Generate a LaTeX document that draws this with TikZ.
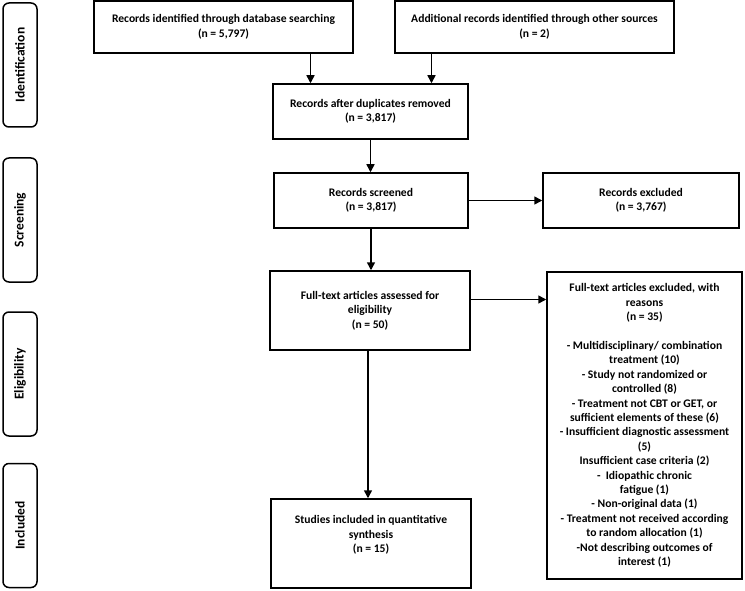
\documentclass[tikz,border=0pt]{standalone}
\usepackage{fontspec}
\setmainfont{Carlito}
\usepackage{tikz}
\usetikzlibrary{shapes, arrows.meta, positioning}
\tikzstyle{record} = [rectangle, draw, line width=1.5pt, align=center, inner sep=2pt, font=\bfseries\fontsize{11.6}{14.4}\selectfont]
\tikzstyle{phase} = [rectangle, rounded corners=6pt, draw, line width=1.5pt, rotate=90, minimum width=124pt, minimum height=34pt, font=\bfseries\fontsize{13.5}{15}\selectfont]
\tikzstyle{flow} = [-{Triangle[length=8pt, width=8pt]}, line width=1.5pt]

\begin{document}
\begin{tikzpicture}[x=1pt, y=-1pt]
  \useasboundingbox (0,0) rectangle (745,591);

  % phases
  \node[phase] (ident) at (20,65) {Identification};
  \node[phase] (screen) at (20,220) {Screening};
  \node[phase] (elig) at (20,374) {Eligibility};
  \node[phase] (incl) at (20,525.5) {Included};

  % Identification
  \node[record, minimum width=259pt, minimum height=52pt] (db) at (223.5,27) {Records identified through database searching\\(n = 5,797)};
  \node[record, minimum width=279pt, minimum height=52pt] (other) at (534.5,27) {Additional records identified through other sources\\(n = 2)};
  \node[record, minimum width=195pt, minimum height=55pt] (dup) at (370.5,111.5) {Records after duplicates removed\\(n = 3,817)};

  % Screening
  \node[record, minimum width=194pt, minimum height=55pt] (scr) at (371,200.5) {Records screened\\(n = 3,817)};
  \node[record, minimum width=196pt, minimum height=55pt] (excl) at (641,200.5) {Records excluded\\(n = 3,767)};

  % Eligibility
  \node[record, minimum width=200pt, minimum height=79pt] (full) at (370,310.5) {Full-text articles assessed for\\eligibility\\(n = 50)};
  \node[record, minimum width=195pt, minimum height=307pt] (fullexcl) at (644.5,425.5) {Full-text articles excluded, with\\reasons\\(n = 35)\\ \strut\\
    - Multidisciplinary/ combination\\treatment (10)\\
    - Study not randomized or\\controlled (8)\\
    - Treatment not CBT or GET, or\\sufficient elements of these (6)\\
    - Insufficient diagnostic assessment\\(5)\\
    Insufficient case criteria (2)\\
    -~ Idiopathic chronic\\fatigue (1)\\
    - Non-original data (1)\\
    - Treatment not received according\\to random allocation (1)\\
    -Not describing outcomes of\\interest (1)};

  % Included
  \node[record, minimum width=200pt, minimum height=89pt] (study) at (371,543.5) {Studies included in quantitative\\synthesis\\(n = 15)\\ \strut};

  % arrows
  \draw[flow] ([xshift=-60pt]dup.north |- db.south) -- ([xshift=-60pt]dup.north);
  \draw[flow] ([xshift=61pt]dup.north |- other.south) -- ([xshift=61pt]dup.north);
  \draw[flow] (dup.south) -- (dup.south |- scr.north);
  \draw[flow] (scr.east) -- (excl.west);
  \draw[flow] (scr.south) -- (scr.south |- full.north);
  \draw[flow] ([yshift=11pt]full.east) -- ([yshift=11pt]full.east -| fullexcl.west);
  \draw[flow] ([xshift=-2pt]full.south) -- ([xshift=-2pt]full.south |- study.north);
\end{tikzpicture}
\end{document}
